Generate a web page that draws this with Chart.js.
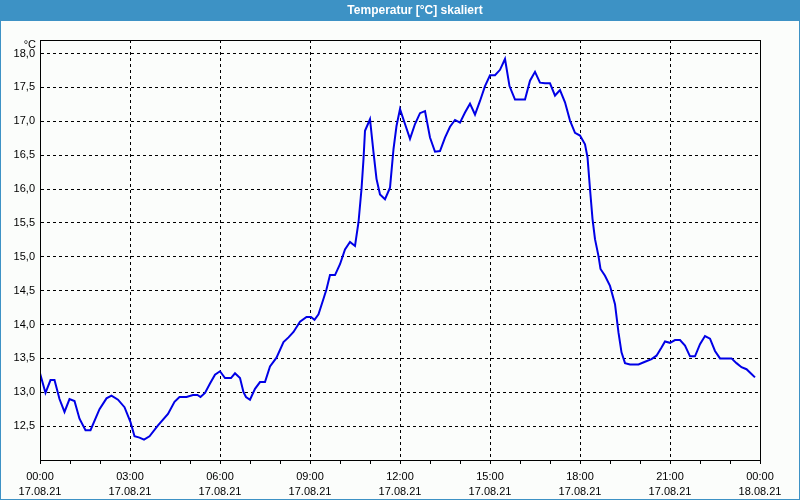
<!DOCTYPE html>
<html><head><meta charset="utf-8">
<script src="https://cdn.jsdelivr.net/npm/chart.js@4/dist/chart.umd.min.js"></script>
<style>html,body{margin:0;padding:0;background:#fbfdfb;}</style>
</head><body>
<canvas id="c" width="800" height="500"></canvas>
<script>
const chartTitle = 'Temperatur [°C] skaliert';
const unitLabel = '°C';
// minutes since 17.08.21 00:00
const timesMin = [0,11,21,29,39,49,59,69,79,91,101,119,133,143,156,169,181,189,199,208,219,236,256,269,279,293,306,315,321,330,340,350,360,370,382,390,400,407,412,420,430,440,450,460,473,487,497,507,520,533,542,549,557,567,573,580,590,600,610,620,630,637,643,647,650,660,667,673,680,690,700,707,713,720,730,740,750,760,770,780,790,800,810,820,830,840,850,860,870,880,890,900,910,920,930,939,950,960,970,980,990,1000,1010,1020,1030,1040,1050,1060,1070,1080,1090,1095,1100,1105,1110,1117,1121,1130,1140,1150,1157,1163,1170,1180,1197,1210,1223,1233,1243,1250,1260,1270,1280,1290,1300,1310,1320,1330,1340,1350,1360,1370,1383,1393,1403,1413,1423,1430];
const tempC = [13.28,12.99,13.18,13.18,12.90,12.71,12.90,12.87,12.61,12.44,12.44,12.75,12.91,12.95,12.89,12.78,12.56,12.35,12.33,12.30,12.35,12.51,12.68,12.86,12.93,12.93,12.96,12.96,12.93,12.99,13.13,13.26,13.31,13.21,13.21,13.28,13.21,13.00,12.93,12.89,13.05,13.15,13.15,13.38,13.51,13.74,13.81,13.89,14.04,14.11,14.11,14.07,14.15,14.38,14.52,14.73,14.73,14.89,15.11,15.22,15.16,15.51,16.00,16.44,16.86,17.03,16.54,16.15,15.92,15.85,16.02,16.59,16.93,17.18,16.96,16.74,16.96,17.12,17.15,16.76,16.55,16.56,16.76,16.92,17.02,16.98,17.13,17.26,17.10,17.30,17.52,17.68,17.68,17.76,17.92,17.52,17.32,17.32,17.32,17.60,17.73,17.57,17.56,17.56,17.38,17.46,17.28,17.01,16.83,16.79,16.66,16.47,16.00,15.56,15.26,15.01,14.82,14.72,14.57,14.30,13.88,13.59,13.43,13.41,13.41,13.45,13.49,13.54,13.66,13.75,13.73,13.77,13.77,13.69,13.53,13.53,13.71,13.83,13.79,13.61,13.50,13.50,13.50,13.43,13.37,13.34,13.27,13.22];
const hourTicks = [0,60,120,180,240,300,360,420,480,540,600,660,720,780,840,900,960,1020,1080,1140,1200,1260,1320,1380,1440];
const labelTicks = [0,180,360,540,720,900,1080,1260,1440];
const timeLabels = ['00:00','03:00','06:00','09:00','12:00','15:00','18:00','21:00','00:00'];
const dateLabels = ['17.08.21','17.08.21','17.08.21','17.08.21','17.08.21','17.08.21','17.08.21','17.08.21','18.08.21'];
const yTicks = [12.5,13.0,13.5,14.0,14.5,15.0,15.5,16.0,16.5,17.0,17.5,18.0];
const yMin = 12.0, yMax = 18.2;

const BLUE_BAR = '#3d92c5';
const FONT = '"Liberation Sans", Arial, sans-serif';

const framePlugin = {
  id: 'frame',
  beforeDraw(chart) {
    const ctx = chart.ctx;
    ctx.save();
    ctx.fillStyle = '#fbfdfb';
    ctx.fillRect(0, 0, 800, 500);
    ctx.fillStyle = BLUE_BAR;
    ctx.fillRect(0, 0, 800, 21);
    ctx.fillStyle = '#ffffff';
    ctx.font = 'bold 12px ' + FONT;
    ctx.textAlign = 'center';
    ctx.textBaseline = 'middle';
    ctx.fillText(chartTitle, 415, 11);
    ctx.strokeStyle = BLUE_BAR;
    ctx.lineWidth = 1;
    ctx.strokeRect(0.5, 0.5, 799, 499);
    ctx.restore();
  },
  afterDraw(chart) {
    const ctx = chart.ctx, a = chart.chartArea;
    ctx.save();
    ctx.strokeStyle = '#000';
    ctx.lineWidth = 1;
    ctx.strokeRect(Math.round(a.left) + 0.5, Math.round(a.top) + 0.5, Math.round(a.right - a.left), Math.round(a.bottom - a.top));
    ctx.fillStyle = '#000';
    ctx.font = '11px ' + FONT;
    ctx.textAlign = 'right';
    ctx.textBaseline = 'middle';
    ctx.fillText(unitLabel, a.left - 4, a.top + 5);
    ctx.restore();
  }
};

new Chart(document.getElementById('c'), {
  type: 'line',
  data: {
    datasets: [{
      data: timesMin.map((t, i) => ({x: t, y: tempC[i]})),
      borderColor: '#0000e6',
      borderWidth: 2,
      pointRadius: 0,
      tension: 0,
      fill: false
    }]
  },
  options: {
    responsive: false,
    animation: false,
    devicePixelRatio: 1,
    layout: {padding: {top: 40, right: 40, left: 0, bottom: 0}},
    plugins: {legend: {display: false}, tooltip: {enabled: false}, title: {display: false}},
    scales: {
      x: {
        type: 'linear', min: 0, max: 1440,
        afterBuildTicks: s => { s.ticks = hourTicks.map(v => ({value: v})); },
        afterFit: s => { s.height = 40; },
        ticks: {
          autoSkip: false, maxRotation: 0, minRotation: 0, padding: 5,
          color: '#000', font: {family: FONT, size: 11, lineHeight: 1.4},
          callback: v => { const i = labelTicks.indexOf(v); return i < 0 ? '' : [timeLabels[i], dateLabels[i]]; }
        },
        grid: {
          color: c => (c.tick && c.tick.value % 180 === 0 && c.tick.value !== 0 && c.tick.value !== 1440) ? '#000' : 'rgba(0,0,0,0)',
          tickColor: '#000', tickLength: 4, drawTicks: true, lineWidth: 1
        },
        border: {display: true, color: '#000', dash: [3, 3]}
      },
      y: {
        type: 'linear', min: yMin, max: yMax,
        afterBuildTicks: s => { s.ticks = yTicks.map(v => ({value: v})); },
        afterFit: s => { s.width = 40; },
        ticks: {
          padding: 5, color: '#000', font: {family: FONT, size: 11},
          callback: v => v.toFixed(1).replace('.', ',')
        },
        grid: {color: '#000', drawTicks: false, lineWidth: 1},
        border: {display: true, color: '#000', dash: [3, 3]}
      }
    }
  },
  plugins: [framePlugin]
});
</script>
</body></html>
